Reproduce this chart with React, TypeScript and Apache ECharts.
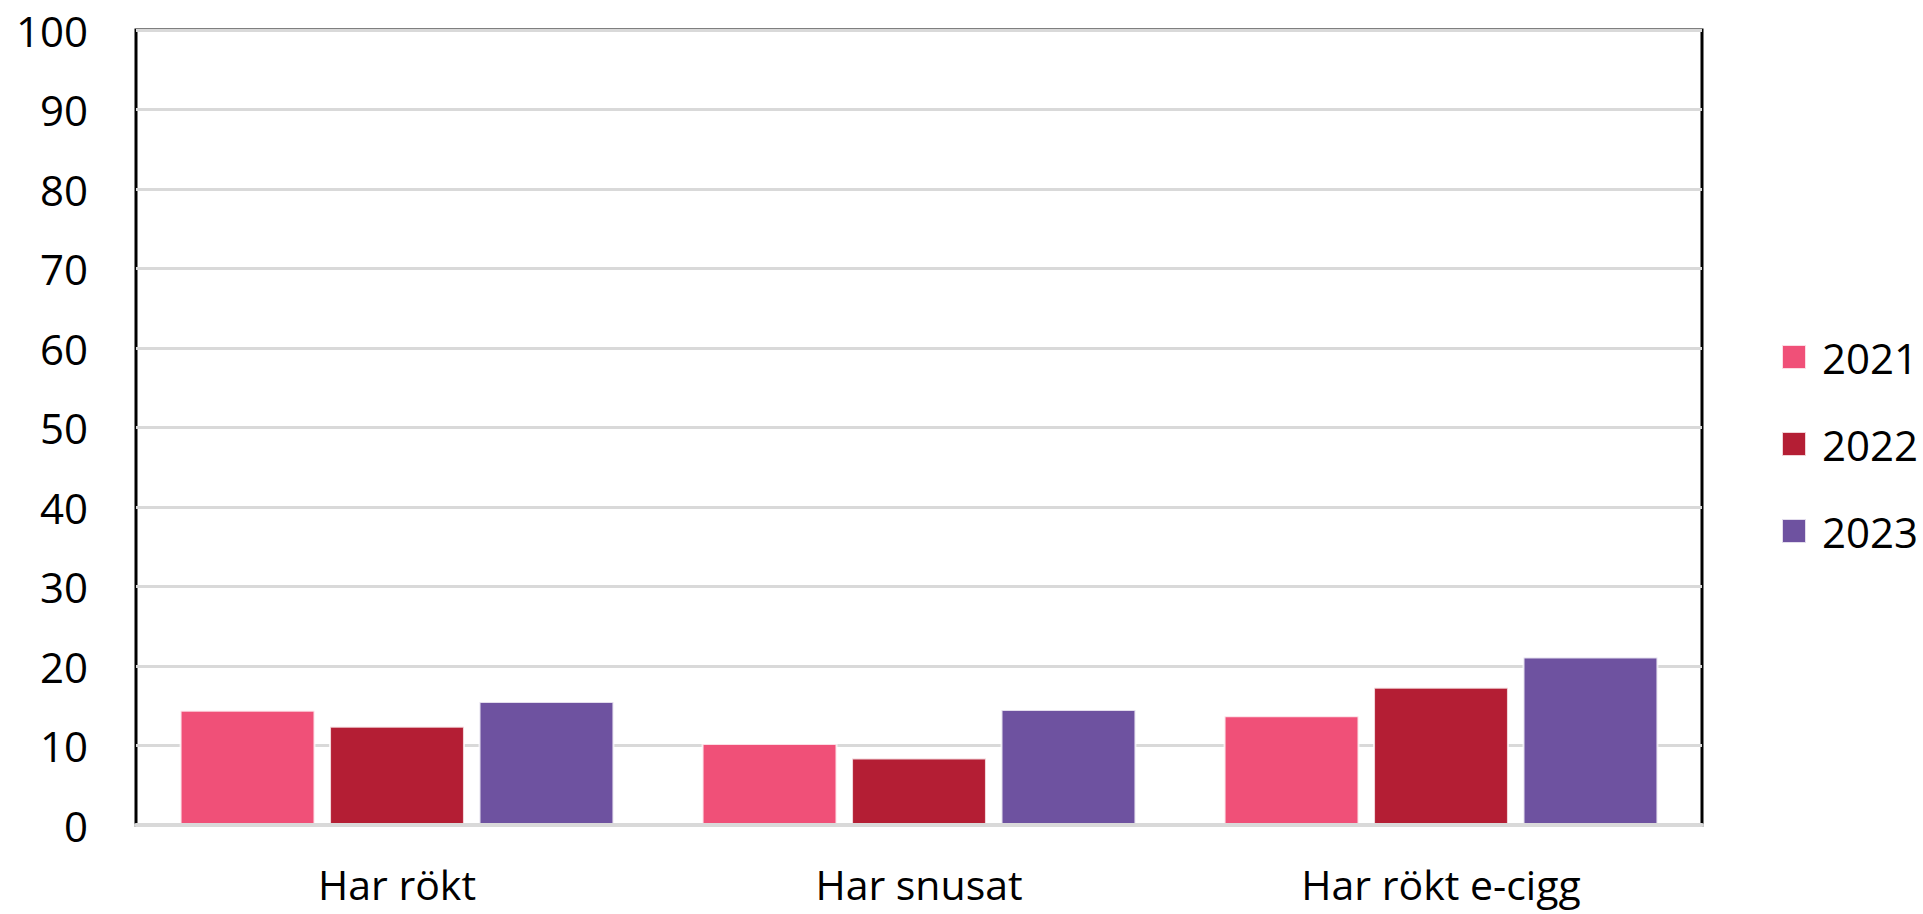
import React, { useEffect, useRef } from "react";
import * as echarts from "echarts";

const categories = ["Har rökt", "Har snusat", "Har rökt e-cigg"];
const seriesNames = ["2021", "2022", "2023"];
const values2021 = [14.5, 10.3, 13.8];
const values2022 = [12.5, 8.5, 17.4];
const values2023 = [15.6, 14.6, 21.2];
const colors = ["#F05078", "#B41E34", "#6E52A0"];

const FONT = "'Open Sans', sans-serif";

export default function App() {
  const ref = useRef<HTMLDivElement>(null);
  useEffect(() => {
    if (!ref.current) return;
    const chart = echarts.init(ref.current, undefined, { renderer: "svg" });
    const data = [values2021, values2022, values2023];
    chart.setOption({
      animation: false,
      backgroundColor: "#fff",
      textStyle: { fontFamily: FONT },
      grid: {
        left: 136,
        right: 221,
        top: 30,
        bottom: 89,
        show: true,
        borderColor: "#000",
        borderWidth: 3,
        containLabel: false,
      },
      legend: {
        orient: "vertical",
        left: 1776,
        top: 331,
        itemWidth: 24,
        itemHeight: 24,
        itemGap: 45,
        icon: "rect",
        data: seriesNames,
        textStyle: {
          fontFamily: FONT,
          fontSize: 42,
          color: "#000",
          padding: [0, 0, 0, 11],
        },
      },
      xAxis: {
        type: "category",
        data: categories,
        axisTick: { show: false },
        axisLine: { show: true, lineStyle: { color: "#D9D9D9", width: 4 } },
        axisLabel: { fontFamily: FONT, fontSize: 41, color: "#000", margin: 38 },
        z: 5,
      },
      yAxis: {
        type: "value",
        min: 0,
        max: 100,
        interval: 10,
        axisLine: { show: false },
        axisTick: { show: false },
        axisLabel: { fontFamily: FONT, fontSize: 42, color: "#000", margin: 48 },
        splitLine: { show: true, lineStyle: { color: "#D9D9D9", width: 3 } },
      },
      series: seriesNames.map((name, i) => ({
        name,
        type: "bar",
        data: data[i],
        barGap: "10%",
        barCategoryGap: "16.7%",
        itemStyle: { color: colors[i], borderColor: "rgba(255,255,255,0.8)", borderWidth: 2 },
      })),
    });
    return () => chart.dispose();
  }, []);
  return (
    <div
      ref={ref}
      style={{ position: "fixed", left: 0, top: 0, width: "1923px", height: "914px" }}
    />
  );
}
